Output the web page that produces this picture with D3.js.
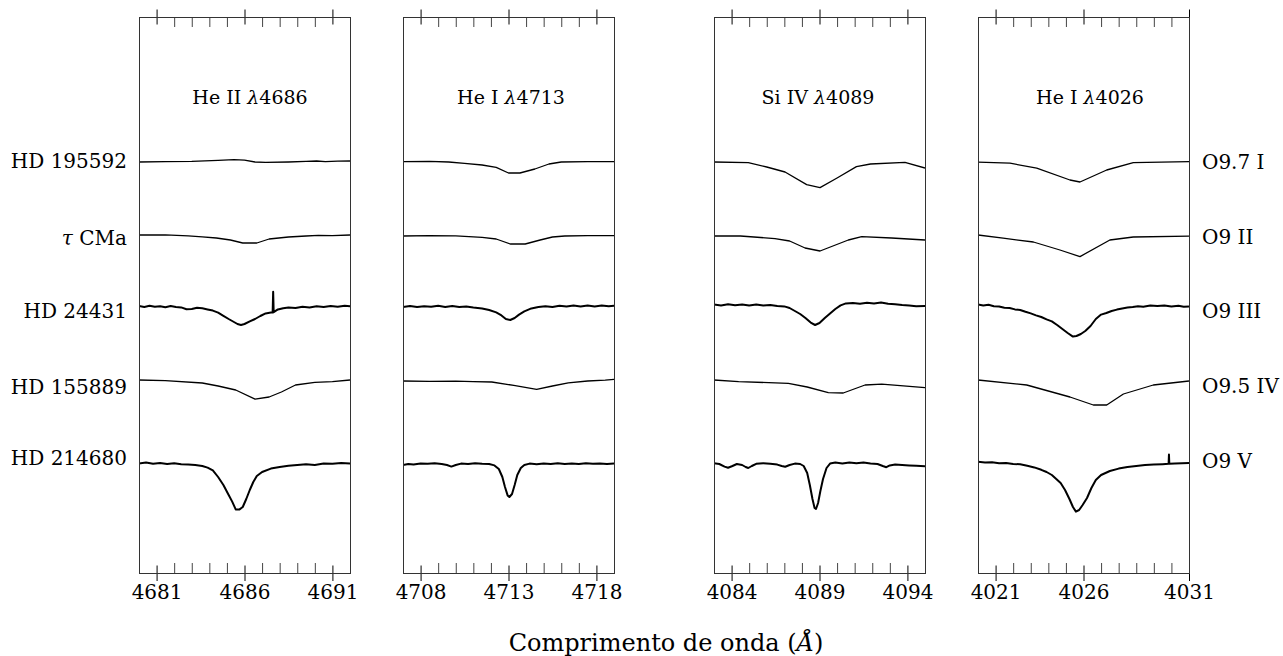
<!DOCTYPE html>
<html><head><meta charset="utf-8">
<script src="https://cdn.jsdelivr.net/npm/d3@7"></script>
<style>
body{margin:0;background:#fff;}
svg text{fill:#000;}
</style></head>
<body><svg id="chart" width="1283" height="656" font-family="DejaVu Serif"></svg>
<script>
// ---------------- DATA ----------------
const stars = ["HD 195592", "τ CMa", "HD 24431", "HD 155889", "HD 214680"];
const spTypes = ["O9.7 I", "O9 II", "O9 III", "O9.5 IV", "O9 V"];
const offsets = [1.06, 0.69, 0.34, -0.04, -0.45];
const noisyStars = [false, false, true, false, true];

const panelIons = ["He II", "He I", "Si IV", "He I"];
const panelLines = ["4686", "4713", "4089", "4026"];
const panelDomains = [[4680, 4692], [4707, 4719], [4083, 4095], [4020, 4032]];
const panelMajorTicks = [[4681, 4686, 4691], [4708, 4713, 4718], [4084, 4089, 4094], [4021, 4026, 4032]];
const panelTickLabels = [["4681", "4686", "4691"], ["4708", "4713", "4718"], ["4084", "4089", "4094"], ["4021", "4026", "4031"]];

// He II 4686 — one array per star (wavelength Å, normalized flux)
const specHeII4686 = [
 [[4680.0,0.995],[4681.5,0.997],[4683.0,0.998],[4684.5,1.003],[4685.4,1.007],[4686.0,1.004],[4686.6,0.995],[4687.2,0.993],[4688.5,0.995],[4689.5,0.998],[4690.1,1.0],[4690.6,0.997],[4691.3,0.999],[4692.0,1.0]],
 [[4680.0,1.0],[4681.5,1.001],[4682.8,0.996],[4683.6,0.991],[4684.4,0.985],[4685.2,0.975],[4685.9,0.96],[4686.7,0.96],[4687.4,0.98],[4688.5,0.99],[4689.5,0.995],[4690.2,0.998],[4691.0,0.997],[4692.0,1.0]],
 [[4680.0,0.995],[4680.3,0.99],[4680.6,0.996],[4680.9,0.991],[4681.2,0.994],[4681.5,0.989],[4681.8,0.995],[4682.1,0.99],[4682.4,0.988],[4682.7,0.979],[4683.0,0.98],[4683.3,0.986],[4683.6,0.984],[4683.9,0.978],[4684.2,0.972],[4684.5,0.962],[4684.8,0.946],[4685.1,0.93],[4685.4,0.915],[4685.6,0.905],[4685.8,0.9],[4686.0,0.905],[4686.3,0.918],[4686.6,0.93],[4686.9,0.945],[4687.2,0.958],[4687.5,0.962],[4687.6,0.962],[4687.63,1.066],[4687.66,0.964],[4687.9,0.978],[4688.2,0.984],[4688.5,0.988],[4688.9,0.985],[4689.3,0.991],[4689.7,0.988],[4690.1,0.994],[4690.5,0.99],[4690.9,0.995],[4691.3,0.991],[4691.7,0.996],[4692.0,0.994]],
 [[4680.0,1.005],[4681.5,1.002],[4683.6,0.99],[4684.5,0.975],[4685.5,0.955],[4686.6,0.909],[4687.4,0.92],[4688.1,0.945],[4688.9,0.98],[4690.0,0.993],[4691.0,0.997],[4692.0,1.005]],
 [[4680.0,0.998],[4680.4,1.002],[4680.8,0.996],[4681.2,1.0],[4681.6,0.995],[4682.0,0.999],[4682.4,0.994],[4682.8,0.993],[4683.2,0.99],[4683.6,0.985],[4683.9,0.977],[4684.2,0.963],[4684.5,0.93],[4684.8,0.89],[4685.1,0.84],[4685.3,0.807],[4685.5,0.768],[4685.7,0.767],[4685.9,0.78],[4686.1,0.82],[4686.3,0.865],[4686.5,0.905],[4686.7,0.935],[4687.0,0.955],[4687.5,0.972],[4688.0,0.98],[4688.5,0.986],[4689.0,0.99],[4689.5,0.994],[4690.0,0.99],[4690.5,0.997],[4691.0,0.996],[4691.5,1.0],[4692.0,0.998]]
];

// He I 4713
const specHeI4713 = [
 [[4707.0,0.997],[4708.5,0.998],[4709.6,0.995],[4710.5,0.988],[4711.5,0.98],[4712.3,0.968],[4713.0,0.94],[4713.65,0.94],[4714.5,0.96],[4715.3,0.985],[4716.0,0.995],[4717.5,0.997],[4719.0,0.997]],
 [[4707.0,0.995],[4708.5,0.997],[4710.0,0.996],[4711.5,0.988],[4712.3,0.98],[4713.1,0.955],[4713.95,0.955],[4714.8,0.975],[4715.5,0.99],[4716.2,0.995],[4717.5,0.997],[4719.0,0.997]],
 [[4707.0,0.99],[4707.4,0.995],[4707.8,0.99],[4708.2,0.994],[4708.6,0.991],[4709.0,0.996],[4709.4,0.99],[4709.8,0.995],[4710.2,0.99],[4710.6,0.993],[4711.0,0.988],[4711.5,0.983],[4711.9,0.975],[4712.3,0.963],[4712.6,0.948],[4712.85,0.93],[4713.1,0.925],[4713.35,0.935],[4713.6,0.952],[4713.9,0.968],[4714.3,0.983],[4714.7,0.99],[4715.1,0.994],[4715.5,0.99],[4715.9,0.996],[4716.3,0.992],[4716.7,0.997],[4717.1,0.993],[4717.5,0.997],[4717.9,0.993],[4718.3,0.997],[4718.7,0.994],[4719.0,0.996]],
 [[4707.0,1.0],[4708.5,0.998],[4710.0,0.999],[4711.0,0.997],[4712.05,0.995],[4713.3,0.978],[4714.6,0.958],[4715.5,0.975],[4716.4,0.991],[4717.5,1.0],[4718.5,1.004],[4719.0,1.008]],
 [[4707.0,0.99],[4707.3,0.995],[4707.6,0.992],[4708.0,0.998],[4708.4,0.996],[4708.8,0.999],[4709.2,0.995],[4709.5,0.99],[4709.75,0.982],[4710.0,0.99],[4710.3,0.997],[4710.7,0.995],[4711.1,0.999],[4711.5,0.996],[4711.9,0.995],[4712.2,0.988],[4712.45,0.97],[4712.65,0.93],[4712.8,0.88],[4712.95,0.838],[4713.05,0.83],[4713.2,0.845],[4713.35,0.89],[4713.5,0.94],[4713.7,0.975],[4713.9,0.99],[4714.2,0.997],[4714.6,0.994],[4715.0,0.998],[4715.4,0.995],[4715.8,0.999],[4716.2,0.995],[4716.6,0.998],[4717.0,0.995],[4717.4,0.999],[4717.8,0.996],[4718.2,0.998],[4718.6,0.995],[4719.0,0.997]]
];

// Si IV 4089
const specSiIV4089 = [
 [[4083.0,0.995],[4084.95,0.992],[4086.0,0.97],[4087.04,0.945],[4088.27,0.882],[4089.03,0.867],[4090.0,0.915],[4091.1,0.972],[4091.9,0.985],[4093.86,0.993],[4095.0,0.965]],
 [[4083.0,0.995],[4084.5,0.995],[4086.47,0.982],[4087.3,0.97],[4088.18,0.935],[4089.03,0.92],[4090.64,0.975],[4091.4,0.992],[4093.1,0.985],[4095.0,0.975]],
 [[4083.0,1.003],[4083.4,0.998],[4083.8,1.004],[4084.2,0.999],[4084.6,1.003],[4085.0,0.997],[4085.4,1.002],[4085.8,0.997],[4086.2,1.0],[4086.6,0.995],[4087.0,0.993],[4087.3,0.985],[4087.6,0.97],[4087.9,0.955],[4088.2,0.935],[4088.5,0.912],[4088.75,0.9],[4089.0,0.91],[4089.3,0.935],[4089.6,0.958],[4089.9,0.98],[4090.2,0.998],[4090.5,1.008],[4090.9,1.01],[4091.3,1.006],[4091.7,1.011],[4092.1,1.007],[4092.5,1.012],[4092.9,1.006],[4093.3,1.004],[4093.7,1.0],[4094.1,0.998],[4094.5,0.994],[4095.0,0.995]],
 [[4083.0,1.005],[4084.4,0.997],[4087.23,0.988],[4088.3,0.97],[4089.5,0.942],[4090.35,0.94],[4091.59,0.98],[4092.54,0.984],[4095.0,0.967]],
 [[4083.0,0.999],[4083.3,0.995],[4083.6,0.982],[4083.8,0.976],[4084.05,0.985],[4084.3,0.995],[4084.6,0.99],[4084.8,0.98],[4084.95,0.975],[4085.15,0.985],[4085.4,0.996],[4085.8,0.999],[4086.2,0.996],[4086.6,0.992],[4086.85,0.985],[4087.05,0.981],[4087.3,0.99],[4087.6,0.997],[4087.9,0.995],[4088.1,0.985],[4088.3,0.95],[4088.45,0.89],[4088.6,0.82],[4088.72,0.775],[4088.8,0.77],[4088.92,0.8],[4089.05,0.86],[4089.2,0.92],[4089.4,0.975],[4089.6,0.997],[4089.9,1.002],[4090.3,0.998],[4090.7,1.003],[4091.1,0.999],[4091.5,1.002],[4091.9,0.997],[4092.3,0.995],[4092.6,0.985],[4092.8,0.979],[4093.0,0.988],[4093.3,0.992],[4093.7,0.99],[4094.1,0.988],[4094.5,0.986],[4095.0,0.984]]
];

// He I 4026
const specHeI4026 = [
 [[4020.0,0.994],[4021.82,0.989],[4023.34,0.964],[4025.23,0.905],[4025.8,0.895],[4027.32,0.955],[4028.83,0.992],[4032.0,0.997]],
 [[4020.0,1.0],[4021.43,0.984],[4023.15,0.965],[4024.66,0.925],[4025.8,0.892],[4027.5,0.975],[4028.83,0.99],[4032.0,0.994]],
 [[4020.0,1.003],[4020.3,0.998],[4020.6,1.001],[4020.9,0.994],[4021.2,0.992],[4021.5,0.986],[4021.8,0.985],[4022.1,0.978],[4022.4,0.975],[4022.7,0.966],[4023.0,0.958],[4023.3,0.948],[4023.6,0.94],[4023.9,0.928],[4024.2,0.918],[4024.5,0.9],[4024.8,0.88],[4025.1,0.86],[4025.4,0.842],[4025.6,0.845],[4025.85,0.855],[4026.1,0.87],[4026.4,0.895],[4026.7,0.93],[4027.0,0.952],[4027.3,0.96],[4027.6,0.97],[4027.9,0.977],[4028.2,0.983],[4028.5,0.987],[4028.8,0.99],[4029.1,0.994],[4029.4,0.991],[4029.8,0.997],[4030.2,0.995],[4030.6,0.998],[4031.0,0.993],[4031.4,0.996],[4031.7,0.991],[4032.0,0.993]],
 [[4020.0,1.005],[4022.77,0.98],[4025.23,0.92],[4026.56,0.88],[4027.32,0.88],[4028.27,0.935],[4029.97,0.98],[4032.0,1.0]],
 [[4020.0,1.006],[4020.4,1.002],[4020.8,1.004],[4021.2,0.999],[4021.6,1.0],[4022.0,0.995],[4022.4,0.994],[4022.8,0.986],[4023.2,0.978],[4023.6,0.966],[4023.9,0.955],[4024.2,0.94],[4024.45,0.92],[4024.7,0.9],[4024.95,0.865],[4025.2,0.82],[4025.4,0.78],[4025.57,0.757],[4025.75,0.765],[4025.95,0.79],[4026.2,0.825],[4026.45,0.875],[4026.7,0.915],[4027.0,0.94],[4027.5,0.96],[4028.0,0.972],[4028.5,0.98],[4029.0,0.985],[4029.5,0.99],[4030.0,0.992],[4030.5,0.994],[4030.84,0.996],[4030.86,1.042],[4030.88,0.996],[4031.2,0.997],[4031.6,0.999],[4032.0,1.0]]
];

const panelSpectra = [specHeII4686, specHeI4713, specSiIV4089, specHeI4026];

// ---------------- LAYOUT ----------------
const svg = d3.select("#chart");
const plotTop = 17, plotBottom = 573, panelW = 211;
const panelLefts = [139, 403, 714, 978];
const titleX = [250, 511, 818, 1090];
const yScale = d3.scaleLinear().domain([0, 2.78]).range([plotBottom, plotTop]);

panelDomains.forEach((dom, p) => {
  const x0 = panelLefts[p];
  const x = d3.scaleLinear().domain(dom).range([x0, x0 + panelW]);
  const g = svg.append("g");

  g.append("clipPath").attr("id", "clip" + p)
    .append("rect").attr("x", x0).attr("y", plotTop).attr("width", panelW).attr("height", plotBottom - plotTop);

  // spectra
  const spectra = panelSpectra[p];
  spectra.forEach((s, i) => {
    const line = d3.line().x(d => x(d[0])).y(d => yScale(d[1] + offsets[i]));
    g.append("path").datum(s)
      .attr("clip-path", "url(#clip" + p + ")")
      .attr("fill", "none").attr("stroke", "#000")
      .attr("stroke-width", noisyStars[i] ? 2.0 : 1.3)
      .attr("stroke-linejoin", "round")
      .attr("d", line);
  });

  // minor ticks (every 1 Å)
  const majors = panelMajorTicks[p];
  const minor = d3.range(Math.ceil(dom[0]), Math.floor(dom[1]) + 1).filter(v => !majors.includes(v));
  const styleAxis = sel => { sel.select(".domain").remove(); sel.selectAll("line").attr("stroke", "#000").attr("stroke-width", 1); };

  g.append("g").attr("transform", `translate(0,${plotBottom})`)
    .call(d3.axisBottom(x).tickValues(minor).tickSize(-10).tickFormat(""))
    .call(styleAxis).selectAll("line").attr("stroke", "#444");
  g.append("g").attr("transform", `translate(0,${plotTop})`)
    .call(d3.axisTop(x).tickValues(minor).tickSize(-10).tickFormat(""))
    .call(styleAxis).selectAll("line").attr("stroke", "#444");

  // major ticks: in + out
  g.append("g").attr("transform", `translate(0,${plotBottom})`)
    .call(d3.axisBottom(x).tickValues(majors).tickSize(-7.5).tickFormat(""))
    .call(styleAxis);
  const bx = g.append("g").attr("transform", `translate(0,${plotBottom})`)
    .call(d3.axisBottom(x).tickValues(majors).tickSize(8).tickPadding(4)
      .tickFormat(v => panelTickLabels[p][majors.indexOf(v)]))
    .call(styleAxis);
  bx.attr("font-family", null).attr("font-size", null);
  bx.selectAll("text").attr("font-size", 20).attr("fill", "#000");
  g.append("g").attr("transform", `translate(0,${plotTop})`)
    .call(d3.axisTop(x).tickValues(majors).tickSize(7.5).tickFormat(""))
    .call(styleAxis);
  g.append("g").attr("transform", `translate(0,${plotTop})`)
    .call(d3.axisTop(x).tickValues(majors).tickSize(-7.5).tickFormat(""))
    .call(styleAxis);

  // frame
  g.append("rect").attr("x", x0 + 0.5).attr("y", plotTop + 0.5).attr("width", panelW).attr("height", plotBottom - plotTop)
    .attr("fill", "none").attr("stroke", "#333").attr("stroke-width", 1);

  // title
  const t = g.append("text").attr("x", titleX[p]).attr("y", 104)
    .attr("text-anchor", "middle").attr("font-size", 19);
  t.append("tspan").text(panelIons[p] + " ");
  t.append("tspan").attr("font-style", "italic").text("λ");
  t.append("tspan").text(panelLines[p]);
});

// star labels (left) and spectral types (right)
const contY = offsets.map(o => yScale(1 + o));
const lt = svg.append("g").selectAll("text").data(stars).join("text")
  .attr("x", 127).attr("y", (d, i) => contY[i] + 7 + [0, 3, 6, 6, -5][i])
  .attr("text-anchor", "end").attr("font-size", 20);
lt.each(function(d) {
  const el = d3.select(this);
  if (d.startsWith("τ")) {
    el.append("tspan").attr("font-style", "italic").text("τ");
    el.append("tspan").text(d.slice(1));
  } else el.text(d);
});
svg.append("g").selectAll("text").data(spTypes).join("text")
  .attr("x", 1202).attr("y", (d, i) => contY[i] + 7 + [1, 2, 6, 5, -2][i])
  .attr("font-size", 20).text(d => d);

// x-axis label
const xl = svg.append("text").attr("x", 666).attr("y", 651).attr("text-anchor", "middle").attr("font-size", 24);
xl.append("tspan").text("Comprimento de onda (");
xl.append("tspan").attr("font-style", "italic").text("Å");
xl.append("tspan").text(")");
</script>
</body></html>
